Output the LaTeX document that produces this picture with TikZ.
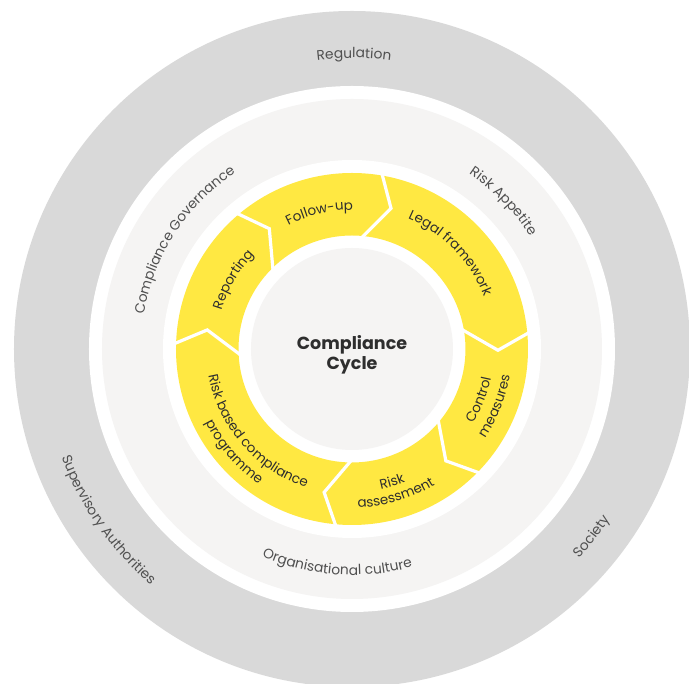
\documentclass[tikz,border=0pt]{standalone}
\usepackage{fontspec}
\setmainfont{Poppins}
\usetikzlibrary{decorations.text,calc}
\definecolor{outerg}{HTML}{D9D9D9}
\definecolor{lightg}{HTML}{F5F4F3}
\definecolor{yel}{HTML}{FFE842}
\definecolor{txt}{HTML}{2E2E2E}
\definecolor{otxt}{HTML}{505050}
\newcommand\otf{\fontsize{13.8}{16}\selectfont\color{otxt}}
\newcommand\itf{\fontsize{13.5}{16}\selectfont\color{txt}}
\newcommand\cwtext[4]{\path[decorate,decoration={text along path,text align=center,text={|#3|#4}}] (#1+60:#2pt) arc[start angle=#1+60,end angle=#1-60,radius=#2pt];}
\newcommand\ccwtext[4]{\path[decorate,decoration={text along path,text align=center,text={|#3|#4}}] (#1-60:#2pt) arc[start angle=#1-60,end angle=#1+60,radius=#2pt];}
\tikzset{sep/.style={white,line width=3.2pt,line join=miter}}
\begin{document}
\begin{tikzpicture}[x=1pt,y=1pt]
\clip (-352,-335) rectangle (337,349);
\fill[white] (-352,-335) rectangle (337,349);
\fill[outerg] (0,0) circle[radius=338pt];
\fill[white] (0,0) circle[radius=263pt];
\fill[lightg] (0,0) circle[radius=250pt];
\fill[white] (0,0) circle[radius=189pt];
\fill[yel,even odd rule] (0,0) circle[radius=176pt] (0,0) circle[radius=113.5pt];
\fill[lightg] (0,0) circle[radius=101pt];
\foreach \a in {74.5,-0.5,-50,-101,172.5,124.5}
  \draw[sep] ($(\a:108pt)+(\a+90:21.4pt)$) -- (\a:146pt) -- ($(\a:183pt)+(\a+90:21.5pt)$);
% outer labels
\cwtext{89.6}{291}{\otf}{Regulation}
\cwtext{147}{211}{\otf}{Compliance Governance}
\cwtext{44.3}{210.5}{\otf}{Risk Appetite}
\ccwtext{266}{226}{\otf}{Organisational culture}
\ccwtext{215}{310}{\otf}{Supervisory Authorities}
\ccwtext{-38}{308.5}{\otf}{Society}
% cycle labels
\cwtext{103.4}{139}{\itf}{Follow-up}
\cwtext{44.2}{142}{\itf}{Legal framework}
\cwtext{149.8}{136}{\itf}{Reporting}
\ccwtext{-21.7}{142}{\itf}{Control}
\ccwtext{-21.7}{160}{\itf}{measures}
\ccwtext{-73.2}{143}{\itf}{Risk}
\ccwtext{-73.2}{159}{\itf}{assessment}
\ccwtext{221}{146}{\itf}{Risk based compliance}
\ccwtext{221}{164}{\itf}{programme}
\node[name=cc,align=center,font=\fontsize{17.5}{20}\selectfont\bfseries,text=txt] at (0,-6) {Compliance\\Cycle};
\end{tikzpicture}
\end{document}
